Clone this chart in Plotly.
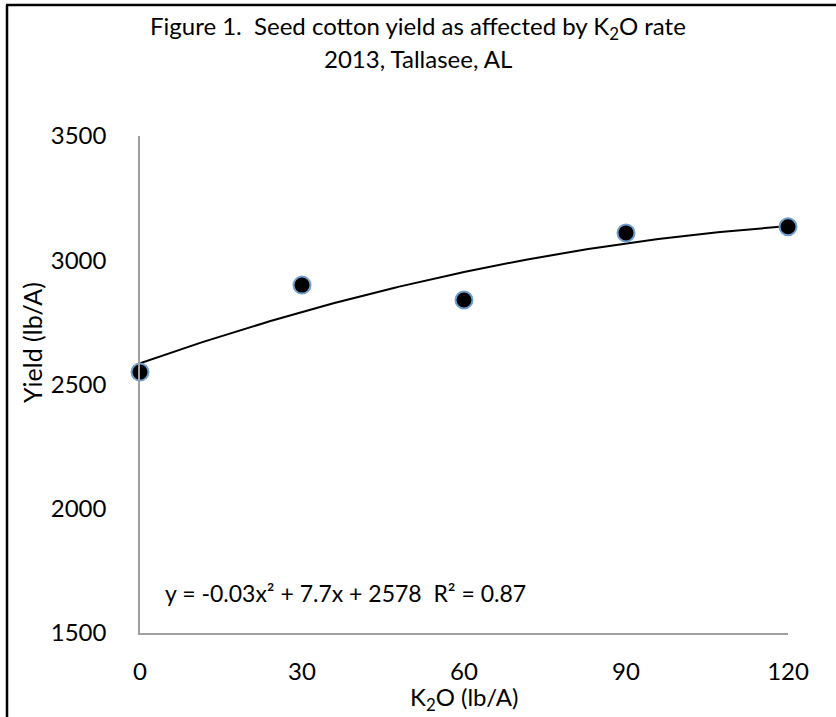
import numpy as np
import plotly.graph_objects as go

# Data
k2o_rate = [0, 30, 60, 90, 120]
yield_lb = [2550, 2900, 2840, 3110, 3135]
x_ticks = [0, 30, 60, 90, 120]
y_ticks = [1500, 2000, 2500, 3000, 3500]
title_line1 = "Figure 1.  Seed cotton yield as affected by K<sub>2</sub>O rate"
title_line2 = "2013, Tallasee, AL"
equation_text = "y = -0.03x² + 7.7x + 2578  R² = 0.87"

# Quadratic trendline fitted from data
coef = np.polyfit(k2o_rate, yield_lb, 2)
xs = np.linspace(0, 120, 121)
ys = np.polyval(coef, xs)

W, H = 836, 717
L, R, T, B = 140, 48, 136, 84
pw, ph = W - L - R, H - T - B

def px_x(p):
    return (p - L) / pw

def px_y(p):
    return (H - B - p) / ph

FONT = "Lato"

fig = go.Figure()
fig.add_trace(go.Scatter(x=xs, y=ys, mode="lines",
                         line=dict(color="black", width=2), hoverinfo="skip",
                         showlegend=False, cliponaxis=False))
fig.add_trace(go.Scatter(x=k2o_rate, y=yield_lb, mode="markers",
                         marker=dict(color="black", size=17,
                                     line=dict(color="#6f9fd0", width=2)),
                         showlegend=False, cliponaxis=False))

fig.update_layout(
    width=W, height=H,
    margin=dict(l=L, r=R, t=T, b=B),
    paper_bgcolor="white", plot_bgcolor="white",
    font=dict(family=FONT, size=24, color="black"),
    xaxis=dict(range=[0, 120], tickvals=x_ticks, showgrid=False, zeroline=False,
               showline=True, linecolor="#a0a0a0", linewidth=1.5,
               ticks="", ticklabelstandoff=16, tickfont=dict(size=24)),
    yaxis=dict(range=[1500, 3500], tickvals=y_ticks, showgrid=False, zeroline=False,
               showline=True, linecolor="#a0a0a0", linewidth=1.5,
               ticks="", ticklabelstandoff=27, tickfont=dict(size=24)),
    annotations=[
        dict(text=title_line1, x=px_x(418), y=px_y(28), xref="paper", yref="paper",
             showarrow=False, font=dict(size=24), xanchor="center", yanchor="middle"),
        dict(text=title_line2, x=px_x(418), y=px_y(59), xref="paper", yref="paper",
             showarrow=False, font=dict(size=24), xanchor="center", yanchor="middle"),
        dict(text="K<sub>2</sub>O (lb/A)", x=px_x(464), y=px_y(698), xref="paper", yref="paper",
             showarrow=False, font=dict(size=24), xanchor="center", yanchor="middle"),
        dict(text="Yield (lb/A)", x=px_x(32), y=px_y(343), xref="paper", yref="paper",
             showarrow=False, font=dict(size=25), textangle=-90,
             xanchor="center", yanchor="middle"),
        dict(text=equation_text, x=px_x(163), y=px_y(593), xref="paper", yref="paper",
             showarrow=False, font=dict(size=23), xanchor="left", yanchor="middle"),
    ],
    shapes=[
        dict(type="line", xref="paper", yref="paper",
             x0=px_x(7), x1=px_x(7), y0=px_y(5), y1=px_y(720),
             line=dict(color="black", width=2.5)),
        dict(type="line", xref="paper", yref="paper",
             x0=px_x(6), x1=px_x(840), y0=px_y(5), y1=px_y(5),
             line=dict(color="black", width=2.5)),
    ],
)

fig.write_html("out.html")
